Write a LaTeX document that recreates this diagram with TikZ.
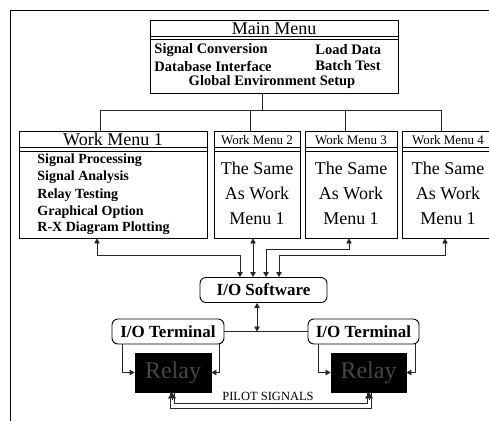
\documentclass[tikz,border=0pt]{standalone}
\usepackage{fontspec}
\setmainfont{Liberation Serif}
\usepackage{tikz}
\usetikzlibrary{arrows.meta,calc,positioning}
\definecolor{relaytext}{HTML}{474747}
\definecolor{wireline}{HTML}{262626}

\begin{document}
\begin{tikzpicture}[x=1pt, y=-1pt, line width=0.9pt,
    >={Triangle[length=5pt,width=5.5pt]},
    menubox/.style={draw, minimum height=107pt, inner sep=0pt},
    iobox/.style={draw, rounded corners=6pt, inner sep=0pt, minimum height=25pt,
      font=\bfseries\fontsize{17}{19}\selectfont},
    relaybox/.style={fill=black, draw=black, inner sep=0pt, minimum height=39pt,
      text=relaytext, font=\fontsize{24}{26}\selectfont},
    mainitem/.style={font=\bfseries\fontsize{14.5}{16}\selectfont, inner sep=0pt},
    workitem/.style={font=\bfseries\fontsize{14}{16}\selectfont, inner sep=0pt, anchor=west},
    bigtitle/.style={font=\fontsize{18}{20}\selectfont, inner sep=0pt},
    smalltitle/.style={font=\fontsize{13}{15}\selectfont, inner sep=0pt},
    sametext/.style={font=\fontsize{18}{25}\selectfont, align=center, inner sep=0pt},
    tree/.style={draw=wireline, line width=0.8pt},
    link/.style={draw=wireline, line width=0.8pt, <->},
    feed/.style={draw=wireline, line width=0.8pt, ->},
    pilot/.style={draw=wireline, line width=0.7pt},
    pilottip/.style={draw=wireline, line width=0.7pt, -{Triangle[length=6pt,width=8pt]}}]

  \useasboundingbox (0,0) rectangle (489,421);
  \clip (0,0) rectangle (489,421);

  % outer frame (top and left edge)
  \draw (10,421) -- (10,10) -- (489,10);

  % ================= MAIN MENU =================
  \node[draw, minimum width=248pt, minimum height=73pt] (mainmenu) at (274,56.5) {};
  \node[bigtitle] (mmtitle) at (274,28.5) {Main Menu};
  \draw ($(mainmenu.north west)+(0,17)$) -- ($(mainmenu.north east)+(0,17)$);
  \draw ($(mainmenu.north west)+(0,20)$) -- ($(mainmenu.north east)+(0,20)$);

  \node[mainitem, anchor=west] (sigconv) at (154,50) {Signal Conversion};
  \node[mainitem, anchor=west] (dbiface) at (154,66) {Database Interface};
  \node[mainitem, anchor=west] (loaddata) at (315,50) {Load Data};
  \node[mainitem, anchor=west] (batchtest) at (315,66) {Batch Test};
  \node[mainitem] (globenv) at (272,82) {Global Environment Setup};

  % ================= WORK MENUS =================
  \node[menubox, minimum width=188pt] (wm1) at (113,184.5) {};
  \node[menubox, minimum width=86pt] (wm2) at (257,184.5) {};
  \node[menubox, minimum width=92pt] (wm3) at (351,184.5) {};
  \node[menubox, minimum width=92pt] (wm4) at (448,184.5) {};

  % double rule under each title
  \foreach \b in {wm1,wm2,wm3,wm4} {
    \draw ($(\b.north west)+(0,17)$) -- ($(\b.north east)+(0,17)$);
    \draw ($(\b.north west)+(0,21)$) -- ($(\b.north east)+(0,21)$);
  }

  \node[bigtitle] (wm1title) at (113,139.5) {Work Menu 1};
  \node[workitem] (sigproc) at (37,160) {Signal Processing};
  \node[workitem] (sigana) at (37,177) {Signal Analysis};
  \node[workitem] (relaytest) at (37,195) {Relay Testing};
  \node[workitem] (graphopt) at (37,212) {Graphical Option};
  \node[workitem] (rxplot) at (37,228) {R-X Diagram Plotting};

  \foreach \b/\n in {wm2/2, wm3/3, wm4/4} {
    \node[smalltitle] (\b title) at ($(\b.north)+(0,10)$) {Work Menu \n};
    \node[sametext] (\b text) at ($(\b.north)+(0,63)$) {The Same\\As Work\\Menu 1};
  }

  % tree from the main menu down to the work menus
  \coordinate (bus) at (262,110);
  \draw[tree] (mainmenu.south -| bus) -- (bus);
  \draw[tree] (100,110) -- (441,110);
  \foreach \b/\x in {wm1/100, wm2/250, wm3/345, wm4/441}
    \draw[tree] (\x,110) -- (\b.north -| \x,0);

  % ================= I/O SOFTWARE =================
  \node[iobox, minimum width=127pt] (iosw) at (263.5,290) {I/O Software};

  \draw[link] (wm1.south -| 97,0) -- ++(0,17) -| (iosw.north -| 240,0);
  \draw[link] (wm2.south -| 253,0) -- (iosw.north -| 253,0);
  \draw[link] (wm3.south -| 349,0) -- ++(0,11) -| (iosw.north -| 266,0);
  \draw[link] (wm4.south -| 445,0) -- ++(0,17) -| (iosw.north -| 279,0);

  % ================= TERMINALS & RELAYS =================
  \node[iobox, minimum width=112pt] (term1) at (168,331.5) {I/O Terminal};
  \node[iobox, minimum width=111pt] (term2) at (363.5,331.5) {I/O Terminal};

  \coordinate (tap) at (257,331.5);
  \draw[tree] (term1.east) -- (term2.west);
  \draw[link] (iosw.south -| tap) -- (tap);

  \node[relaybox, minimum width=76pt] (relay1) at (173,372.5) {Relay};
  \node[relaybox, minimum width=75pt] (relay2) at (368.5,372.5) {Relay};

  \draw[feed] (term1.south -| 122,0) |- (relay1.west);
  \draw[feed] (term1.south -| 219,0) |- (relay1.east);
  \draw[feed] (term2.south -| 318,0) |- (relay2.west);
  \draw[feed] (term2.south -| 415,0) |- (relay2.east);

  % pilot channel between the two relays (two parallel wires)
  \draw[pilot] (relay1.south -| 170,0) -- ++(0,16) -| (relay2.south -| 371,0);
  \draw[pilot] (relay1.south -| 174,0) -- ++(0,11) -| (relay2.south -| 367,0);
  \draw[pilottip] ($(relay1.south -| 172,0)+(0,8)$) -- (relay1.south -| 172,0);
  \draw[pilottip] ($(relay2.south -| 369,0)+(0,8)$) -- (relay2.south -| 369,0);
  \node[font=\fontsize{12.5}{14}\selectfont, inner sep=0pt] (pilotlbl) at (268,396) {PILOT SIGNALS};

\end{tikzpicture}
\end{document}
